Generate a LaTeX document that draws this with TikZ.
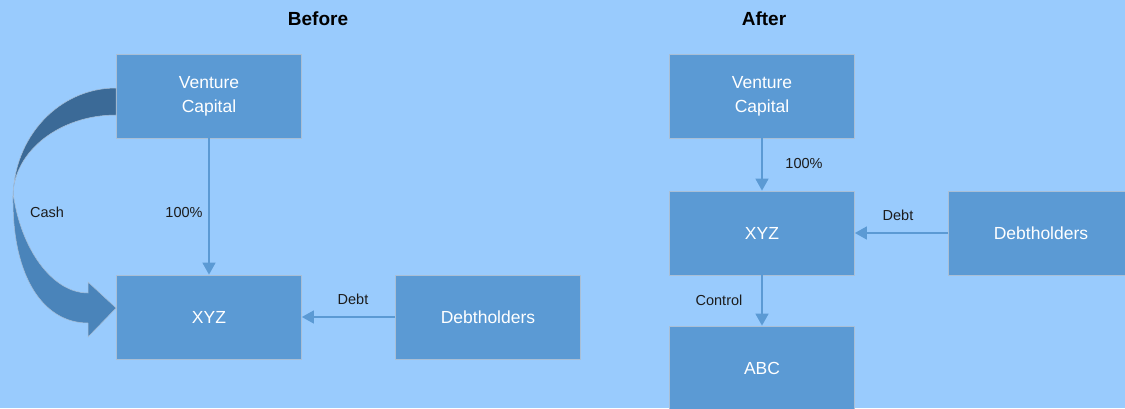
\documentclass[tikz,border=0pt]{standalone}
\usepackage{fontspec}
\setmainfont{Liberation Sans}
\usetikzlibrary{arrows.meta,calc}
\definecolor{bgblue}{HTML}{99CBFD}
\definecolor{boxblue}{HTML}{5B9AD4}
\definecolor{boxedge}{HTML}{A9BFD6}
\definecolor{cashdark}{HTML}{3B6A97}
\definecolor{cashlight}{HTML}{4A84BA}
\definecolor{labelgray}{HTML}{1C1C1C}
\tikzset{
	party/.style={rectangle,draw=boxedge,line width=0.8pt,fill=boxblue,text=white,
		minimum width=185pt,minimum height=84pt,align=center,
		font=\fontsize{17.5}{24}\selectfont},
	flow/.style={draw=boxblue,line width=1.6pt,-{Triangle[length=12pt,width=13pt]}},
	tag/.style={text=labelgray,font=\fontsize{14.5}{17}\selectfont},
	heading/.style={font=\bfseries\fontsize{19}{22}\selectfont}
}
\begin{document}
\begin{tikzpicture}[x=1pt,y=-1pt]
		\useasboundingbox (0,0) rectangle (1125,408);
		\fill[bgblue] (0,0) rectangle (1125,408);
		\clip (0,0) rectangle (1125,408);

		\node[heading] (before)at(318,19){Before};
		\node[heading] (after)at(764,19){After};

		% before
		\node[party] (vcL)at(209,96){Venture\\Capital};
		\node[party] (xyzL)at(209,317){XYZ};
		\node[party] (dhL)at(488,317){Debtholders};

		\draw[flow] (vcL) -- (xyzL);
		\draw[flow] (dhL) -- (xyzL);

		\node[tag] (pctL)at(184,213){100\%};
		\node[tag] (debtL)at(353,299){Debt};
		\node[tag] (cash)at(47,212){Cash};

		\fill[cashdark,draw=boxedge,line width=0.5pt] ($(vcL.west)+(0,-8)$) .. controls (59,88) and (13,137) .. (13,199)
			-- (13,195) .. controls (14,151) and (60,115) .. ($(vcL.west)+(0,19)$) -- cycle;
		\fill[cashlight,draw=boxedge,line width=0.5pt] (13,192) .. controls (20,248) and (52,293) .. (88,293)
			-- (88,282) -- ($(xyzL.west)+(0,-9)$) -- (88,337) -- (88,323)
			.. controls (44,323) and (12,278) .. (13,196) -- cycle;

		% after
		\node[party] (vcR)at(762,96){Venture\\Capital};
		\node[party] (xyzR)at(762,233){XYZ};
		\node[party] (abc)at(762,368){ABC};
		\node[party] (dhR)at(1041,233){Debtholders};

		\draw[flow] (vcR) -- (xyzR);
		\draw[flow] (dhR) -- (xyzR);
		\draw[flow] (xyzR) -- (abc);

		\node[tag] (pctR)at(804,164){100\%};
		\node[tag] (debtR)at(898,215){Debt};
		\node[tag] (ctrl)at(719,300){Control};
	\end{tikzpicture}
\end{document}
